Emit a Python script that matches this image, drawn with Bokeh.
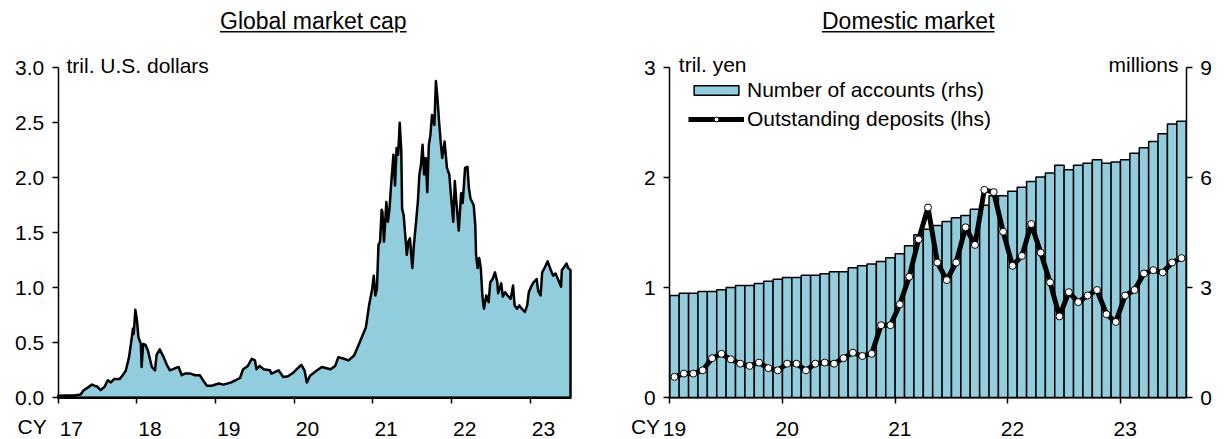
from bokeh.plotting import figure
from bokeh.models import (Range1d, LinearAxis, FixedTicker, Label, Legend, LegendItem,
                          Div, NumeralTickFormatter)
from bokeh.layouts import row, column
from bokeh.embed import file_html
from bokeh.resources import INLINE

FONT = "Liberation Sans"
FILL = "#92CDDD"

# ---------------- Global market cap (tril. U.S. dollars) ----------------
gm_year = [
    2017.00, 2017.10, 2017.20, 2017.285, 2017.32, 2017.38, 2017.43, 2017.46, 2017.50, 2017.54,
    2017.59, 2017.63, 2017.67, 2017.71, 2017.78, 2017.82, 2017.86, 2017.90, 2017.93, 2017.95,
    2017.96, 2017.98, 2018.00, 2018.02, 2018.05, 2018.06, 2018.08, 2018.11, 2018.14, 2018.19,
    2018.23, 2018.25, 2018.29, 2018.34, 2018.38, 2018.42, 2018.49, 2018.53, 2018.57, 2018.61,
    2018.68, 2018.74, 2018.80, 2018.84, 2018.89, 2018.95, 2019.04, 2019.10, 2019.20, 2019.31,
    2019.35, 2019.41, 2019.46, 2019.50, 2019.52, 2019.56, 2019.61, 2019.69, 2019.71, 2019.80,
    2019.86, 2019.92, 2019.99, 2020.03, 2020.09, 2020.13, 2020.16, 2020.20, 2020.29, 2020.35,
    2020.46, 2020.52, 2020.56, 2020.63, 2020.69, 2020.76, 2020.80, 2020.87, 2020.91, 2020.95,
    2020.99, 2021.01, 2021.03, 2021.05, 2021.07, 2021.09, 2021.11, 2021.12, 2021.14, 2021.17,
    2021.19, 2021.21, 2021.23, 2021.26, 2021.28, 2021.30, 2021.32, 2021.34, 2021.36, 2021.37,
    2021.39, 2021.41, 2021.43, 2021.45, 2021.47, 2021.50, 2021.52, 2021.54, 2021.57, 2021.59,
    2021.61, 2021.63, 2021.65, 2021.67, 2021.69, 2021.71, 2021.73, 2021.75, 2021.78, 2021.80,
    2021.82, 2021.84, 2021.86, 2021.88, 2021.91, 2021.94, 2021.97, 2021.99, 2022.02, 2022.04,
    2022.06, 2022.09, 2022.12, 2022.14, 2022.17, 2022.20, 2022.22, 2022.24, 2022.28, 2022.30,
    2022.31, 2022.33, 2022.35, 2022.37, 2022.39, 2022.41, 2022.44, 2022.47, 2022.49, 2022.52,
    2022.55, 2022.58, 2022.59, 2022.63, 2022.65, 2022.68, 2022.71, 2022.75, 2022.78, 2022.80,
    2022.83, 2022.86, 2022.89, 2022.93, 2022.96, 2022.98, 2023.01, 2023.04, 2023.08, 2023.10,
    2023.13, 2023.15, 2023.18, 2023.22, 2023.26, 2023.29, 2023.32, 2023.35, 2023.39, 2023.40,
    2023.43, 2023.46, 2023.48, 2023.51,
]
gm_cap = [
    0.018, 0.020, 0.022, 0.030, 0.066, 0.095, 0.120, 0.110, 0.100, 0.070,
    0.100, 0.160, 0.140, 0.170, 0.170, 0.205, 0.250, 0.370, 0.520, 0.630,
    0.580, 0.800, 0.710, 0.550, 0.490, 0.280, 0.490, 0.480, 0.430, 0.280,
    0.250, 0.390, 0.440, 0.370, 0.300, 0.250, 0.270, 0.280, 0.205, 0.220,
    0.220, 0.205, 0.205, 0.160, 0.110, 0.110, 0.130, 0.120, 0.140, 0.180,
    0.260, 0.290, 0.355, 0.340, 0.260, 0.290, 0.260, 0.250, 0.220, 0.250,
    0.190, 0.195, 0.230, 0.260, 0.300, 0.250, 0.140, 0.200, 0.250, 0.280,
    0.260, 0.290, 0.370, 0.355, 0.340, 0.385, 0.450, 0.570, 0.640, 0.840,
    0.990, 1.110, 0.930, 0.990, 1.390, 1.420, 1.710, 1.690, 1.420, 1.780,
    1.600, 1.720, 1.930, 2.210, 1.930, 2.270, 2.210, 2.500, 2.240, 1.720,
    1.660, 1.480, 1.300, 1.420, 1.450, 1.180, 1.390, 1.540, 1.780, 2.030,
    2.120, 2.300, 2.030, 2.180, 1.870, 2.300, 2.390, 2.570, 2.480, 2.880,
    2.720, 2.510, 2.330, 2.180, 2.330, 2.090, 2.030, 1.850, 1.600, 1.970,
    1.780, 1.520, 1.860, 1.770, 2.090, 2.100, 1.900, 1.810, 1.750, 1.570,
    1.300, 1.180, 1.270, 1.180, 0.930, 0.810, 0.930, 0.870, 1.050, 1.080,
    1.140, 1.050, 0.950, 1.040, 0.920, 0.960, 0.930, 0.900, 1.020, 0.840,
    0.810, 0.840, 0.810, 0.780, 0.840, 0.960, 1.010, 1.050, 1.080, 0.970,
    0.930, 1.140, 1.180, 1.240, 1.160, 1.110, 1.130, 1.080, 1.010, 1.160,
    1.190, 1.220, 1.180, 1.160,
]
gm_year_labels = ["17", "18", "19", "20", "21", "22", "23"]
gm_y_ticks = [0.0, 0.5, 1.0, 1.5, 2.0, 2.5, 3.0]

# ---------------- Domestic market (monthly, Jan 2019 - Jul 2023) ----------------
accounts = [  # millions (rhs)
    2.79, 2.85, 2.85, 2.90, 2.90, 2.95, 3.01, 3.06, 3.06, 3.12,
    3.18, 3.23, 3.28, 3.28, 3.34, 3.34, 3.38, 3.44, 3.44, 3.55,
    3.60, 3.65, 3.72, 3.82, 3.93, 4.15, 4.45, 4.60, 4.70, 4.81,
    4.91, 4.97, 5.14, 5.25, 5.51, 5.51, 5.63, 5.74, 5.90, 6.02,
    6.13, 6.34, 6.22, 6.34, 6.40, 6.49, 6.40, 6.43, 6.49, 6.67,
    6.82, 6.99, 7.20, 7.47, 7.54,
]
deposits = [  # tril. yen (lhs)
    0.19, 0.22, 0.22, 0.25, 0.36, 0.40, 0.35, 0.31, 0.29, 0.32,
    0.27, 0.25, 0.31, 0.31, 0.25, 0.31, 0.32, 0.31, 0.36, 0.41,
    0.38, 0.40, 0.66, 0.66, 0.85, 1.10, 1.44, 1.73, 1.23, 1.07,
    1.23, 1.55, 1.39, 1.89, 1.87, 1.51, 1.20, 1.29, 1.58, 1.32,
    1.05, 0.74, 0.96, 0.87, 0.93, 0.98, 0.76, 0.69, 0.93, 0.98,
    1.13, 1.16, 1.14, 1.23, 1.27,
]
dom_year_labels = ["19", "20", "21", "22", "23"]
dom_lhs_ticks = [0, 1, 2, 3]
dom_rhs_ticks = [0, 3, 6, 9]

TICK_FS = "21px"

# layout geometry (pixels)
FIG_TOP = 32           # height of the title strip
FIG_H = 439 - FIG_TOP  # figure height
FRAME_TOP = 67.3       # page y of the top of the value axes
FRAME_BOT = 397.3      # page y of the zero line
PPU = (FRAME_BOT - FRAME_TOP) / 3.0
Y0 = -(FIG_TOP + FIG_H - FRAME_BOT) / PPU
Y1 = 3.0 + (FRAME_TOP - FIG_TOP) / PPU


def base_style(p):
    p.outline_line_color = None
    p.grid.visible = False
    p.background_fill_color = "white"
    p.border_fill_color = "white"
    p.min_border = 0


def style_axis(ax):
    ax.axis_line_color = "black"
    ax.axis_line_width = 1.5
    ax.major_tick_line_color = "black"
    ax.major_tick_line_width = 1.5
    ax.major_tick_in = 0
    ax.major_tick_out = 6
    ax.minor_tick_line_color = None
    ax.major_label_text_font = FONT
    ax.major_label_text_font_size = TICK_FS
    ax.major_label_text_color = "black"
    ax.major_label_standoff = 8


def year_axis(ax, label_pos, bounds, labels):
    ax.ticker = FixedTicker(ticks=label_pos, minor_ticks=bounds)
    ax.major_label_overrides = {pos: lab for pos, lab in zip(label_pos, labels)}
    ax.major_tick_line_color = None
    ax.minor_tick_line_color = "black"
    ax.minor_tick_line_width = 1.5
    ax.minor_tick_in = 0
    ax.minor_tick_out = 6
    ax.major_label_standoff = 18


def text_label(p, x, y, text, align="left", baseline="alphabetic", size="21px"):
    p.add_layout(Label(x=x, y=y, x_units="screen", y_units="screen", text=text,
                       text_font=FONT, text_font_size=size, text_color="black",
                       text_align=align, text_baseline=baseline))


# ---------------- left figure ----------------
W1 = 600
L1, R1 = 57.7, 570.0
gm_x = [(t - 2017) * 12 for t in gm_year]
ppm1 = (R1 - L1) / gm_x[-1]
p1 = figure(width=W1, height=FIG_H,
            x_range=Range1d(-L1 / ppm1, gm_x[-1] + (W1 - R1) / ppm1),
            y_range=Range1d(Y0, Y1),
            output_backend="svg", toolbar_location=None)
base_style(p1)
p1.patch([gm_x[0]] + gm_x + [gm_x[-1]], [0] + gm_cap + [0],
         fill_color=FILL, line_color="black", line_width=2.5, line_join="round")
xa1, ya1 = p1.xaxis[0], p1.yaxis[0]
style_axis(xa1)
style_axis(ya1)
year_axis(xa1, [12 * i + 2 for i in range(len(gm_year_labels))],
          [12 * i for i in range(len(gm_year_labels))], gm_year_labels)
xa1.fixed_location = 0
xa1.bounds = (0, gm_x[-1])
ya1.fixed_location = 0
ya1.bounds = (0, 3.0)
ya1.ticker = FixedTicker(ticks=gm_y_ticks)
ya1.formatter = NumeralTickFormatter(format="0.0")
text_label(p1, 66, FIG_TOP + FIG_H - 65, "tril. U.S. dollars")
text_label(p1, 31.7, FIG_TOP + FIG_H - (FRAME_BOT + 17), "CY", align="center", baseline="top")

# ---------------- right figure ----------------
W2 = 618
X2 = 600
L2, R2 = 669.3 - X2, 1185.7 - X2
n = len(accounts)
idx = list(range(n))
ppm2 = (R2 - L2) / n
p2 = figure(width=W2, height=FIG_H,
            x_range=Range1d(-0.5 - L2 / ppm2, n - 0.5 + (W2 - R2) / ppm2),
            y_range=Range1d(Y0, Y1),
            output_backend="svg", toolbar_location=None)
base_style(p2)
p2.extra_y_ranges = {"rhs": Range1d(Y0 * 3, Y1 * 3)}
bars = p2.vbar(x=idx, top=accounts, width=1, bottom=0, y_range_name="rhs",
               fill_color=FILL, line_color="black", line_width=1.5)
ln = p2.line(idx, deposits, line_color="black", line_width=5, line_join="round")
sc = p2.scatter(idx, deposits, size=7, fill_color="white", line_color="black", line_width=1)

rax = LinearAxis(y_range_name="rhs")
p2.add_layout(rax, "right")
xa2, ya2 = p2.xaxis[0], p2.yaxis[0]
for ax in (xa2, ya2, rax):
    style_axis(ax)
year_axis(xa2, [12 * i for i in range(len(dom_year_labels))],
          [12 * i - 0.5 for i in range(len(dom_year_labels))], dom_year_labels)
xa2.fixed_location = 0
xa2.bounds = (-0.5, n - 0.5)
ya2.fixed_location = -0.5
ya2.bounds = (0, 3)
ya2.ticker = FixedTicker(ticks=dom_lhs_ticks)
rax.fixed_location = n - 0.5
rax.bounds = (0, 9)
rax.ticker = FixedTicker(ticks=dom_rhs_ticks)

legend = Legend(items=[LegendItem(label="Number of accounts (rhs)", renderers=[bars]),
                       LegendItem(label="Outstanding deposits (lhs)", renderers=[ln, sc])],
                location=(88, 308), orientation="vertical",
                glyph_width=56, glyph_height=12, label_standoff=3, spacing=5,
                padding=0, margin=0, border_line_color=None, background_fill_alpha=0,
                label_text_font=FONT, label_text_font_size="21px", label_text_color="black")
p2.add_layout(legend)

text_label(p2, 678.3 - X2, FIG_TOP + FIG_H - 64, "tril. yen")
text_label(p2, 1178 - X2, FIG_TOP + FIG_H - 64, "millions", align="right")
text_label(p2, 645 - X2, FIG_TOP + FIG_H - (FRAME_BOT + 17), "CY", align="center", baseline="top")


# ---------------- titles ----------------
def title_div(text, width, pad_left):
    return Div(text=('<div style="padding-left:%dpx;padding-top:9px;font-family:\'Liberation Sans\';'
                     'font-size:23px;line-height:24px;color:black;white-space:nowrap;">'
                     '<u>%s</u></div>') % (pad_left, text),
               width=width, height=FIG_TOP, margin=(0, 0, 0, 0))


t1 = title_div("Global market cap", W1, 220)
t2 = title_div("Domestic market", W2, 822 - X2)

layout = row(column(t1, p1), column(t2, p2))

with open("out.html", "w") as f:
    f.write(file_html(layout, INLINE))
